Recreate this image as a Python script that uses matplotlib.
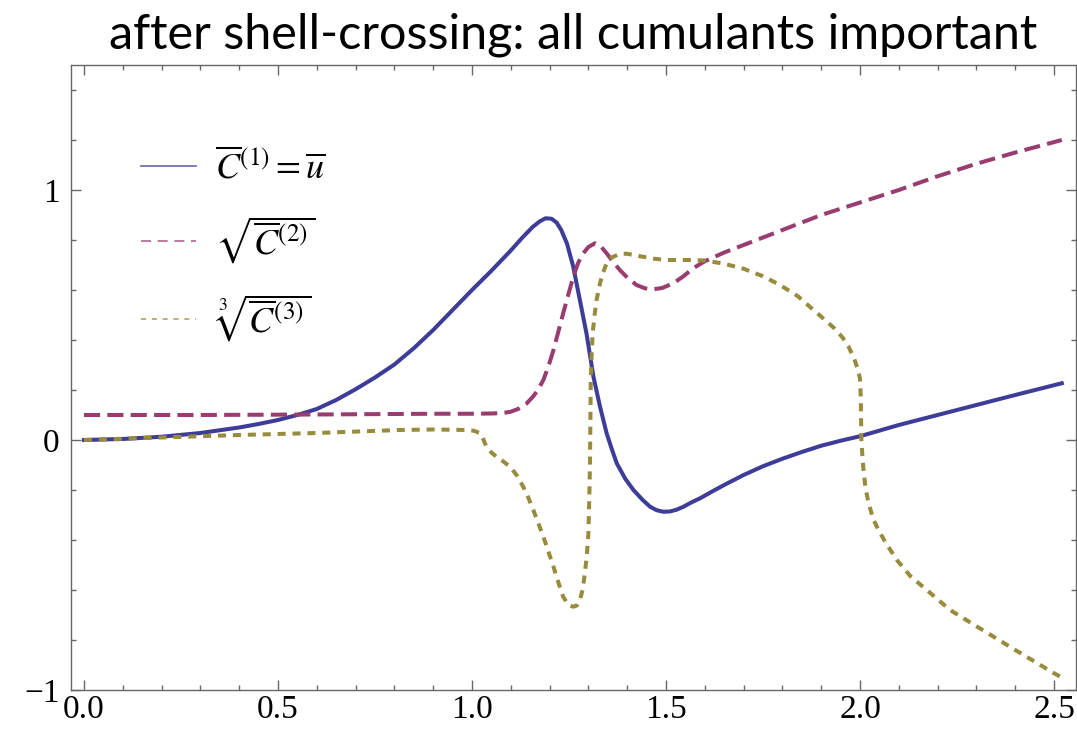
import numpy as np
import matplotlib
matplotlib.use("Agg")
import matplotlib.pyplot as plt
from matplotlib.ticker import MultipleLocator, FixedLocator
from matplotlib.lines import Line2D

# ---- data ----
x_c1 = [0.0, 0.1, 0.2, 0.3, 0.4, 0.45, 0.5, 0.55, 0.6, 0.65, 0.7, 0.75, 0.8, 0.85, 0.9,
        0.95, 1.0, 1.05, 1.1, 1.13, 1.157, 1.175, 1.19, 1.205, 1.218, 1.23, 1.245, 1.261,
        1.278, 1.295, 1.313, 1.33, 1.347, 1.36, 1.373, 1.395, 1.416, 1.44, 1.459, 1.476,
        1.493, 1.51, 1.527, 1.545, 1.565, 1.588, 1.62, 1.65, 1.7, 1.75, 1.8, 1.85, 1.9,
        1.95, 2.0, 2.1, 2.2, 2.3, 2.4, 2.52]
c1 = [0.0, 0.004, 0.013, 0.028, 0.05, 0.064, 0.08, 0.1, 0.124, 0.16, 0.203, 0.25, 0.302,
      0.367, 0.44, 0.52, 0.6, 0.677, 0.758, 0.81, 0.853, 0.875, 0.887, 0.885, 0.87, 0.84,
      0.785, 0.693, 0.56, 0.427, 0.253, 0.133, 0.027, -0.035, -0.093, -0.155, -0.2, -0.24,
      -0.267, -0.281, -0.287, -0.286, -0.279, -0.267, -0.25, -0.233, -0.205, -0.18, -0.14,
      -0.105, -0.075, -0.048, -0.023, -0.003, 0.015, 0.06, 0.1, 0.14, 0.18, 0.227]

x_c2 = [0.0, 0.3, 0.6, 0.9, 1.0, 1.05, 1.08, 1.1, 1.12, 1.14, 1.157, 1.17, 1.184, 1.197,
        1.21, 1.222, 1.235, 1.248, 1.261, 1.274, 1.287, 1.3, 1.317, 1.33, 1.347, 1.365,
        1.381, 1.4, 1.424, 1.445, 1.467, 1.49, 1.519, 1.545, 1.57, 1.6, 1.65, 1.7, 1.75,
        1.8, 1.85, 1.9, 1.95, 2.0, 2.1, 2.2, 2.25, 2.3, 2.4, 2.52]
c2 = [0.1, 0.1, 0.102, 0.105, 0.105, 0.106, 0.108, 0.113, 0.125, 0.145, 0.173, 0.2, 0.24,
      0.295, 0.36, 0.43, 0.507, 0.58, 0.653, 0.71, 0.747, 0.772, 0.787, 0.778, 0.747, 0.71,
      0.68, 0.65, 0.62, 0.607, 0.603, 0.608, 0.627, 0.655, 0.687, 0.715, 0.75, 0.78, 0.81,
      0.84, 0.87, 0.9, 0.925, 0.95, 1.0, 1.055, 1.08, 1.105, 1.15, 1.2]

x_c3 = [0.0, 0.2, 0.4, 0.6, 0.814, 0.9, 0.986, 1.005, 1.021, 1.03, 1.037, 1.05, 1.063, 1.08,
        1.098, 1.115, 1.132, 1.145, 1.158, 1.171, 1.184, 1.197, 1.21, 1.222, 1.235, 1.248,
        1.261, 1.27, 1.278, 1.285, 1.291, 1.296, 1.3, 1.302, 1.304, 1.305, 1.306, 1.308,
        1.311, 1.316, 1.321, 1.33, 1.338, 1.347, 1.36, 1.381, 1.4, 1.433, 1.47, 1.502, 1.54,
        1.57, 1.6, 1.65, 1.7, 1.75, 1.794, 1.84, 1.88, 1.91, 1.935, 1.955, 1.97, 1.985,
        1.995, 2.0, 2.002, 2.0035, 2.006, 2.009, 2.014, 2.022, 2.035, 2.052, 2.07, 2.095,
        2.13, 2.172, 2.232, 2.3, 2.4, 2.5, 2.52]
c3 = [0.0, 0.01, 0.02, 0.028, 0.04, 0.042, 0.04, 0.037, 0.027, 0.0, -0.027, -0.05, -0.067,
      -0.085, -0.107, -0.14, -0.187, -0.23, -0.28, -0.333, -0.387, -0.447, -0.507, -0.567,
      -0.627, -0.66, -0.667, -0.662, -0.64, -0.6, -0.533, -0.46, -0.373, -0.25, -0.107,
      0.06, 0.227, 0.33, 0.427, 0.5, 0.56, 0.627, 0.67, 0.707, 0.73, 0.745, 0.745, 0.735,
      0.725, 0.72, 0.72, 0.72, 0.718, 0.705, 0.685, 0.655, 0.62, 0.575, 0.52, 0.48, 0.445,
      0.41, 0.375, 0.325, 0.28, 0.245, 0.17, 0.0, -0.06, -0.12, -0.19, -0.253, -0.32,
      -0.373, -0.42, -0.48, -0.545, -0.6, -0.68, -0.745, -0.84, -0.933, -0.95]

labels = [r"$\overline{C}^{(1)}=\overline{u}$",
          r"$\sqrt{\overline{C}^{(2)}}$",
          r"$\sqrt[3]{\overline{C}^{(3)}}$"]

col1 = (0.24, 0.24, 0.6)
col2 = (0.6, 0.24, 0.4428)
col3 = (0.6, 0.547, 0.24)

plt.rcParams["mathtext.fontset"] = "stix"
plt.rcParams["font.family"] = ["Liberation Serif", "DejaVu Serif"]

fig = plt.figure(figsize=(10.77, 7.33), dpi=100)
ax = fig.add_axes([0.0659, 0.0587, 0.9333, 0.8526])

lw = 2.9
ax.plot(x_c1, c1, color=col1, lw=lw, solid_joinstyle="round")
ax.plot(x_c2, c2, color=col2, lw=lw, linestyle=(0, (4.0, 1.8)), dash_capstyle="butt")
ax.plot(x_c3, c3, color=col3, lw=lw, linestyle=(0, (2.0, 1.7)), dash_capstyle="butt")

ax.set_xlim(-0.0335, 2.557)
ax.set_ylim(-1.0, 1.5)

ax.xaxis.set_major_locator(MultipleLocator(0.5))
ax.xaxis.set_minor_locator(MultipleLocator(0.1))
ax.yaxis.set_major_locator(FixedLocator([-1, 0, 1]))
ax.yaxis.set_minor_locator(MultipleLocator(0.2))
ax.set_xticklabels([f"{v:.1f}" for v in ax.get_xticks()])
ax.set_yticklabels(["\u22121", "0", "1"])

for s in ax.spines.values():
    s.set_color("#666666")
    s.set_linewidth(1.0)
ax.tick_params(which="both", direction="in", top=True, right=True,
               color="#666666", width=1.0, labelsize=24)
ax.tick_params(which="major", length=7)
ax.tick_params(which="minor", length=3.5)
ax.tick_params(axis="x", pad=3)
ax.tick_params(axis="y", pad=8)

handles = [Line2D([], [], color=col1, lw=1.2, alpha=0.8),
           Line2D([], [], color=col2, lw=1.2, alpha=0.8, linestyle=(0, (6, 4))),
           Line2D([], [], color=col3, lw=1.2, alpha=0.8, linestyle=(0, (3, 3.5)))]
ax.legend(handles, labels, loc="upper left", bbox_to_anchor=(0.07, 0.866),
          frameon=False, fontsize=26, handlelength=1.5, handletextpad=0.55,
          labelspacing=0.76, borderpad=0, borderaxespad=0)

ax.set_title("after shell-crossing: all cumulants important", fontsize=35,
             family="Lato", pad=12)

fig.savefig("out.png", dpi=100)
